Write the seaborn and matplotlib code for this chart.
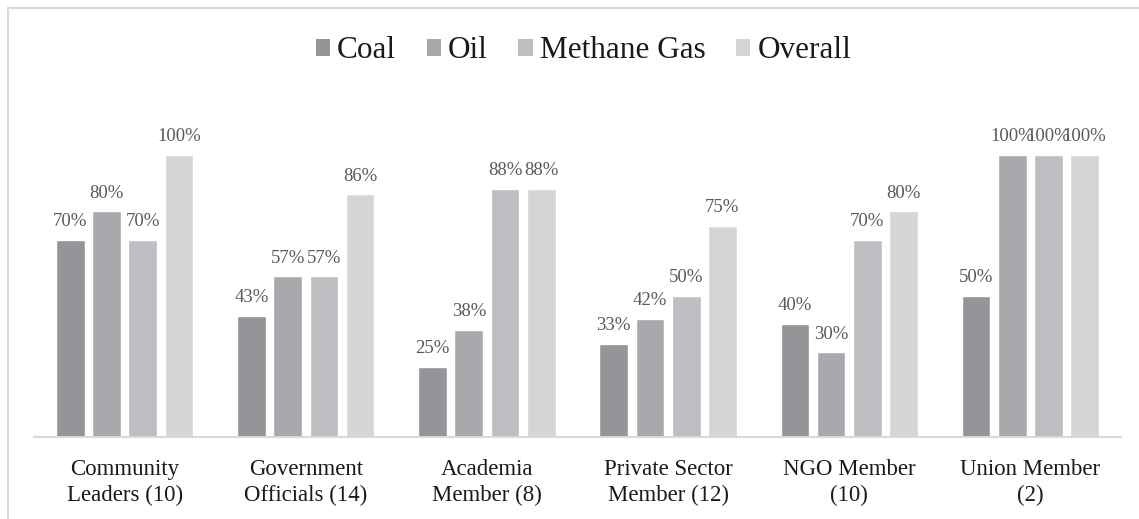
import matplotlib
matplotlib.use("Agg")
import matplotlib.pyplot as plt
from matplotlib.patches import Patch
from matplotlib.lines import Line2D
import seaborn as sns
import pandas as pd

categories = ["Community\nLeaders (10)", "Government\nOfficials (14)", "Academia\nMember (8)",
              "Private Sector\nMember (12)", "NGO Member\n(10)", "Union Member\n(2)"]
series_names = ["Coal", "Oil", "Methane Gas", "Overall"]
coal = [70, 43, 25, 33, 40, 50]
oil = [80, 57, 38, 42, 30, 100]
methane = [70, 57, 88, 50, 70, 100]
overall = [100, 86, 88, 75, 80, 100]
colors = ["#939598", "#a8a9ac", "#bdbec1", "#d4d5d7"]

rows = []
for name, vals in zip(series_names, [coal, oil, methane, overall]):
    for c, v in zip(categories, vals):
        rows.append({"Group": c, "Source": name, "Value": v})
df = pd.DataFrame(rows)

sns.set_theme(style="white")
plt.rcParams["font.family"] = ["Liberation Serif", "DejaVu Serif"]

fig = plt.figure(figsize=(11.39, 5.19), dpi=100)
ax = fig.add_axes([34 / 1139, 0.158, (1121 - 34) / 1139, 0.652])

sns.barplot(data=df, x="Group", y="Value", hue="Source", palette=colors,
            width=0.8, gap=0.21, legend=False, ax=ax, saturation=1, errorbar=None)

for cont in ax.containers:
    ax.bar_label(cont, fmt="%.0f%%", padding=7, fontsize=13.5, color="#595959")

ax.set_ylim(0, 120)
ax.set_xlim(-0.5, len(categories) - 0.5)
ax.set_xlabel("")
ax.set_ylabel("")
ax.set_yticks([])
for s in ["top", "right", "left"]:
    ax.spines[s].set_visible(False)
ax.spines["bottom"].set_color("#d9d9d9")
ax.spines["bottom"].set_linewidth(1.5)
ax.tick_params(axis="x", length=0, pad=16, labelsize=16.5, labelcolor="#1a1a1a")
for lbl in ax.get_xticklabels():
    lbl.set_linespacing(1.3)

handles = [Patch(facecolor=c, edgecolor="none", label=n) for c, n in zip(colors, series_names)]
fig.legend(handles=handles, loc="center", bbox_to_anchor=(583.5 / 1139, 1 - 51 / 519), ncol=4,
           frameon=False, fontsize=22.5, handlelength=0.46, handleheight=0.46,
           handletextpad=0.23, columnspacing=0.97, labelcolor="#1a1a1a")

# figure frame (cropped at right and bottom)
fig.add_artist(Line2D([8 / 1139, 8 / 1139], [0, 1 - 8 / 519], transform=fig.transFigure,
                      color="#d9d9d9", lw=1.5))
fig.add_artist(Line2D([8 / 1139, 1], [1 - 8 / 519, 1 - 8 / 519], transform=fig.transFigure,
                      color="#d9d9d9", lw=1.5))

fig.savefig("out.png", dpi=100)
